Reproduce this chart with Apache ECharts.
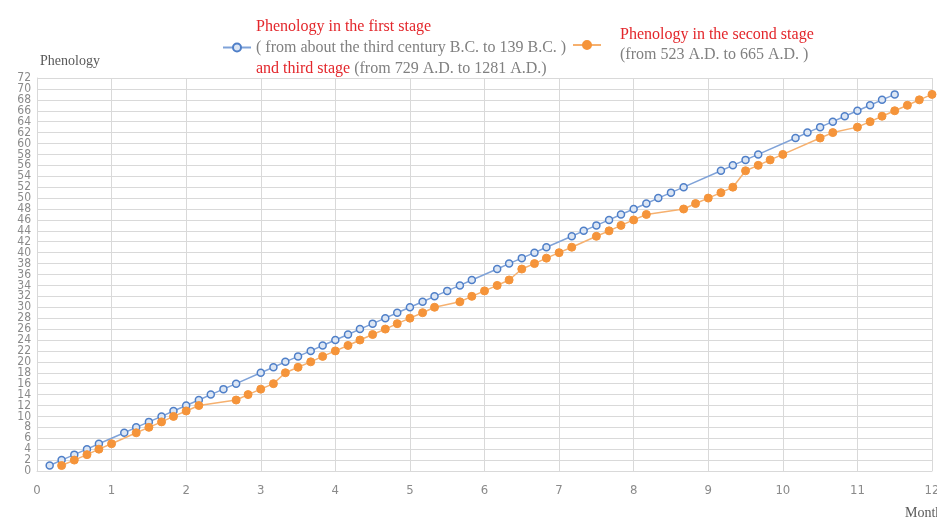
<!DOCTYPE html>
<html>
<head>
<meta charset="utf-8">
<script src="https://cdn.jsdelivr.net/npm/echarts@6/dist/echarts.min.js"></script>
<style>
html,body{margin:0;padding:0;background:#fff;}
#main{width:937px;height:521px;}
</style>
</head>
<body>
<div id="main"></div>
<script>
// Series 1: first and third stage (x in months, y = phenology index)
const blueMonth = [0.17,0.33,0.5,0.67,0.83,1.17,1.33,1.5,1.67,1.83,2,2.17,2.33,2.5,2.67,3,3.17,3.33,3.5,3.67,3.83,4,4.17,4.33,4.5,4.67,4.83,5,5.17,5.33,5.5,5.67,5.83,6.17,6.33,6.5,6.67,6.83,7.17,7.33,7.5,7.67,7.83,8,8.17,8.33,8.5,8.67,9.17,9.33,9.5,9.67,10.17,10.33,10.5,10.67,10.83,11,11.17,11.33,11.5];
const blueValue = [1,2,3,4,5,7,8,9,10,11,12,13,14,15,16,18,19,20,21,22,23,24,25,26,27,28,29,30,31,32,33,34,35,37,38,39,40,41,43,44,45,46,47,48,49,50,51,52,55,56,57,58,61,62,63,64,65,66,67,68,69];
// Series 2: second stage
const orangeMonth = [0.33,0.5,0.67,0.83,1,1.33,1.5,1.67,1.83,2,2.17,2.67,2.83,3,3.17,3.33,3.5,3.67,3.83,4,4.17,4.33,4.5,4.67,4.83,5,5.17,5.33,5.67,5.83,6,6.17,6.33,6.5,6.67,6.83,7,7.17,7.5,7.67,7.83,8,8.17,8.67,8.83,9,9.17,9.33,9.5,9.67,9.83,10,10.5,10.67,11,11.17,11.33,11.5,11.67,11.83,12];
const orangeValue = [1,2,3,4,5,7,8,9,10,11,12,13,14,15,16,18,19,20,21,22,23,24,25,26,27,28,29,30,31,32,33,34,35,37,38,39,40,41,43,44,45,46,47,48,49,50,51,52,55,56,57,58,61,62,63,64,65,66,67,68,69];

const seriesNames = ['first', 'second'];
const legendFirst = ['Phenology in the first stage', '( from about the third century B.C. to 139 B.C. )', 'and third stage', '(from 729 A.D. to 1281 A.D.)'];
const legendSecond = ['Phenology in the second stage', '(from 523 A.D. to 665 A.D. )'];
const yName = 'Phenology';
const xName = 'Month';

const RED = '#e3262b';
const GRAY = '#808080';
const SERIF = '"Liberation Serif", "DejaVu Serif", serif';
const NARROW = '"Liberation Sans Narrow", "DejaVu Sans Condensed", sans-serif';

const chart = echarts.init(document.getElementById('main'), null, {renderer: 'canvas'});
const zip = (a, b) => a.map((v, i) => [v, b[i]]);
const yLabel = {color: '#8a8a8a', fontSize: 12, margin: 6, fontFamily: NARROW};

chart.setOption({
  animation: false,
  backgroundColor: '#fff',
  grid: {left: 37, right: 5, top: 78, bottom: 50, containLabel: false, outerBoundsMode: 'none'},
  legend: [
    {
      data: [seriesNames[0]], left: 222, top: 16, padding: 0,
      itemWidth: 28, itemHeight: 10, selectedMode: false,
      formatter: () => '{r|' + legendFirst[0] + '}\n{g|' + legendFirst[1] + '}\n{r|' + legendFirst[2] + '} {g|' + legendFirst[3] + '}',
      textStyle: {
        fontFamily: SERIF, fontSize: 16, lineHeight: 21,
        rich: {
          r: {color: RED, fontFamily: SERIF, fontSize: 16, lineHeight: 21},
          g: {color: GRAY, fontFamily: SERIF, fontSize: 16, lineHeight: 21}
        }
      }
    },
    {
      data: [seriesNames[1]], left: 572, top: 25, padding: 0,
      itemWidth: 28, itemHeight: 10, selectedMode: false,
      formatter: () => '{r|' + legendSecond[0] + '}\n{g|' + legendSecond[1] + '}',
      textStyle: {
        fontFamily: SERIF, fontSize: 16, lineHeight: 20,
        rich: {
          r: {color: RED, fontFamily: SERIF, fontSize: 16, lineHeight: 20, padding: [0, 0, 0, 14]},
          g: {color: GRAY, fontFamily: SERIF, fontSize: 16, lineHeight: 20, padding: [0, 0, 0, 14]}
        }
      }
    }
  ],
  xAxis: {
    type: 'value', min: 0, max: 12, interval: 1,
    name: xName, nameLocation: 'end', nameGap: -27,
    nameTextStyle: {fontFamily: SERIF, fontSize: 14, color: '#595959', verticalAlign: 'top', padding: [35, 0, 0, 0]},
    axisLine: {show: true, lineStyle: {color: '#d9d9d9'}},
    axisTick: {show: false},
    axisLabel: {color: '#8a8a8a', fontSize: 13, margin: 13, fontFamily: NARROW, showMinLabel: true, showMaxLabel: true},
    splitLine: {show: true, lineStyle: {color: '#d9d9d9', width: 1}}
  },
  yAxis: [
    {
      type: 'value', min: 0, max: 72, interval: 2, position: 'left',
      name: yName, nameLocation: 'end', nameGap: 10,
      nameTextStyle: {fontFamily: SERIF, fontSize: 14, color: '#595959', align: 'left', padding: [0, 0, 0, 3]},
      axisLine: {show: true, lineStyle: {color: '#d9d9d9'}},
      axisTick: {show: false},
      axisLabel: Object.assign({showMinLabel: false, showMaxLabel: false}, yLabel),
      splitLine: {show: true, lineStyle: {color: '#d9d9d9', width: 1}}
    },
    {
      type: 'value', min: 0, max: 72, interval: 72, position: 'left', offset: 0,
      axisLine: {show: false}, axisTick: {show: false}, splitLine: {show: false},
      axisLabel: Object.assign({showMinLabel: true, showMaxLabel: true}, yLabel)
    }
  ],
  series: [
    {
      name: seriesNames[0], type: 'line', data: zip(blueMonth, blueValue), yAxisIndex: 0,
      symbol: 'circle', symbolSize: 7, clip: false,
      lineStyle: {color: '#7fa2d8', width: 1.5},
      itemStyle: {color: '#dce6f4', borderColor: '#4f7fc8', borderWidth: 1.5},
      z: 2
    },
    {
      name: seriesNames[1], type: 'line', data: zip(orangeMonth, orangeValue), yAxisIndex: 0,
      symbol: 'circle', symbolSize: 8, clip: false,
      lineStyle: {color: '#f6b06e', width: 1.5},
      itemStyle: {color: '#f5943a', borderColor: '#f5943a', borderWidth: 1},
      z: 3
    }
  ]
});
</script>
</body>
</html>
